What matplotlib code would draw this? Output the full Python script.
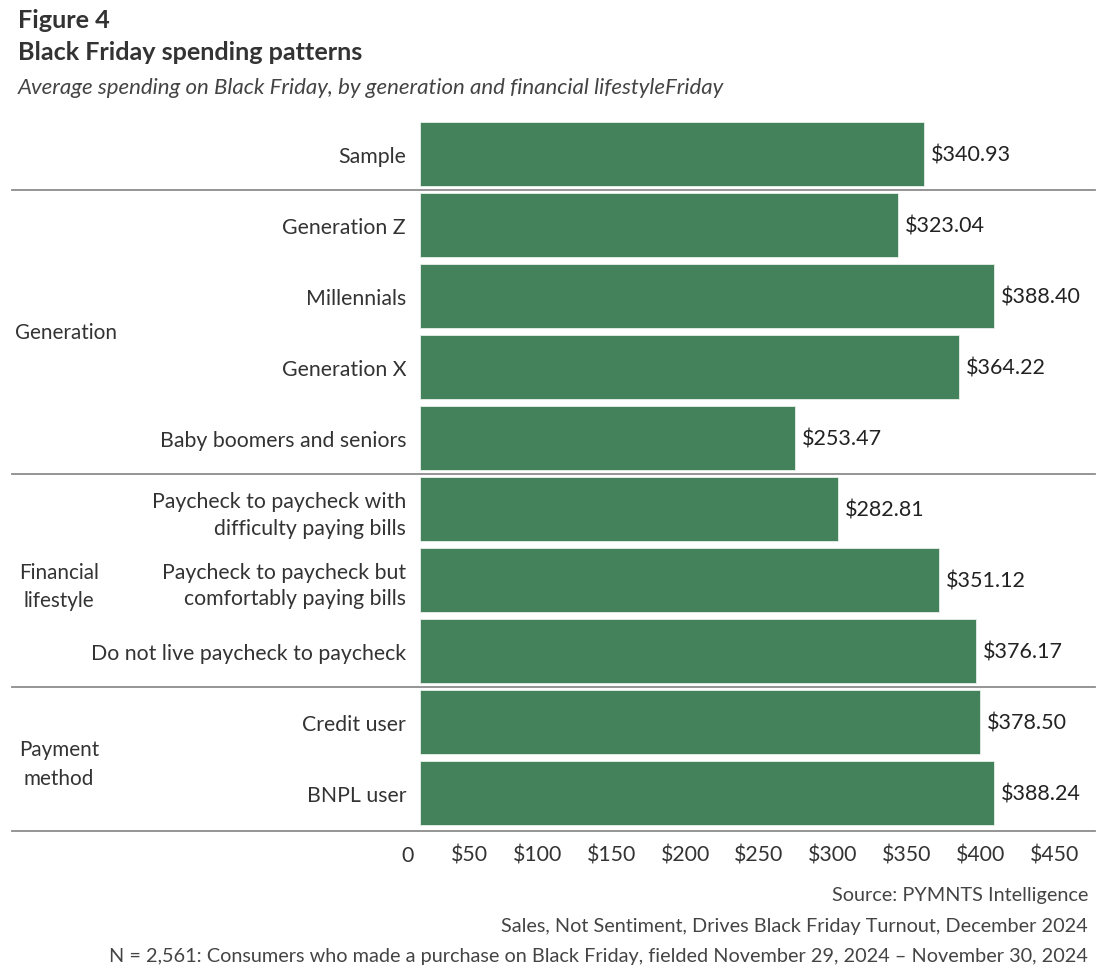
import matplotlib
matplotlib.use('Agg')
import matplotlib.pyplot as plt
import matplotlib.transforms as mtransforms

plt.rcParams['font.family'] = ['Lato', 'DejaVu Sans']

categories = ['Sample', 'Generation Z', 'Millennials', 'Generation X', 'Baby boomers and seniors',
              'Paycheck to paycheck with\ndifficulty paying bills',
              'Paycheck to paycheck but\ncomfortably paying bills',
              'Do not live paycheck to paycheck', 'Credit user', 'BNPL user']
values = [340.93, 323.04, 388.40, 364.22, 253.47, 282.81, 351.12, 376.17, 378.50, 388.24]
groups = ['Generation', 'Financial\nlifestyle', 'Payment\nmethod']
group_centers = [2.5, 6, 8.5]
separators = [0.5, 4.5, 7.5]
ticks = [0, 50, 100, 150, 200, 250, 300, 350, 400, 450]
tick_labels = ['0'] + ['$' + str(t) for t in ticks[1:]]

green = '#43825B'
text_col = '#333333'
line_col = '#8c8c8c'

W, H = 1108, 979
fig = plt.figure(figsize=(W / 100, H / 100), dpi=100)
ax = fig.add_axes([420 / W, 1 - 832 / H, (1095 - 420) / W, (832 - 119) / H])

y = range(len(categories))
ax.barh(y, values, height=0.9, color=green, edgecolor='#e8efe9', linewidth=0.6)
ax.set_xlim(0, (1095 - 420) / 1.479)
ax.set_ylim(9.535, -0.51)

ax.set_yticks(list(y))
ax.set_yticklabels(categories, fontsize=15.3, color=text_col, linespacing=1.4)
ax.tick_params(axis='y', length=0, pad=10)
ax.set_xticks(ticks)
ax.set_xticklabels(tick_labels, fontsize=15.3, color=text_col)
ax.tick_params(axis='x', length=0, pad=10)
off = mtransforms.ScaledTranslation(-6 / 100, 0, fig.dpi_scale_trans)
for lab in ax.get_xticklabels():
    lab.set_horizontalalignment('right')
    lab.set_transform(lab.get_transform() + off)

for s in ax.spines.values():
    s.set_visible(False)

for v, yy in zip(values, y):
    ax.annotate(f'${v:.2f}', (v, yy), xytext=(5, 0), textcoords='offset points',
                va='center', ha='left', fontsize=15.5, color='#222222')

# separator lines spanning the whole width
x0 = (12 - 420) / (1095 - 420)
for s in separators + [9.535]:
    ax.axhline(s, xmin=x0, xmax=1, color=line_col, linewidth=1.3, clip_on=False)

bt = mtransforms.blended_transform_factory(fig.transFigure, ax.transData)
grp_off = mtransforms.ScaledTranslation(0, -6 / 100, fig.dpi_scale_trans)
ax.text(15 / W, group_centers[0], groups[0], transform=bt, ha='left', va='center',
        fontsize=14.9, color=text_col)
for g, c in zip(groups[1:], group_centers[1:]):
    ax.text(59 / W, c, g, transform=bt + grp_off, ha='center', va='center',
            fontsize=14.9, color=text_col, linespacing=1.55, multialignment='center')

fig.text(18 / W, 1 - 20 / H, 'Figure 4', fontsize=18.2, fontweight='bold', color=text_col, va='center')
fig.text(18 / W, 1 - 53 / H, 'Black Friday spending patterns', fontsize=18.1, fontweight='bold',
         color=text_col, va='center')
fig.text(18 / W, 1 - 88 / H, 'Average spending on Black Friday, by generation and financial lifestyleFriday',
         fontsize=16, style='italic', color='#444444', va='center')

footer = ['Source: PYMNTS Intelligence',
          'Sales, Not Sentiment, Drives Black Friday Turnout, December 2024',
          'N = 2,561: Consumers who made a purchase on Black Friday, fielded November 29, 2024 \u2013 November 30, 2024']
for i, t in enumerate(footer):
    fig.text(1088 / W, 1 - (896 + 30.5 * i) / H, t, fontsize=14.3, color='#444444', ha='right', va='center')

fig.savefig('out.png', dpi=100)
